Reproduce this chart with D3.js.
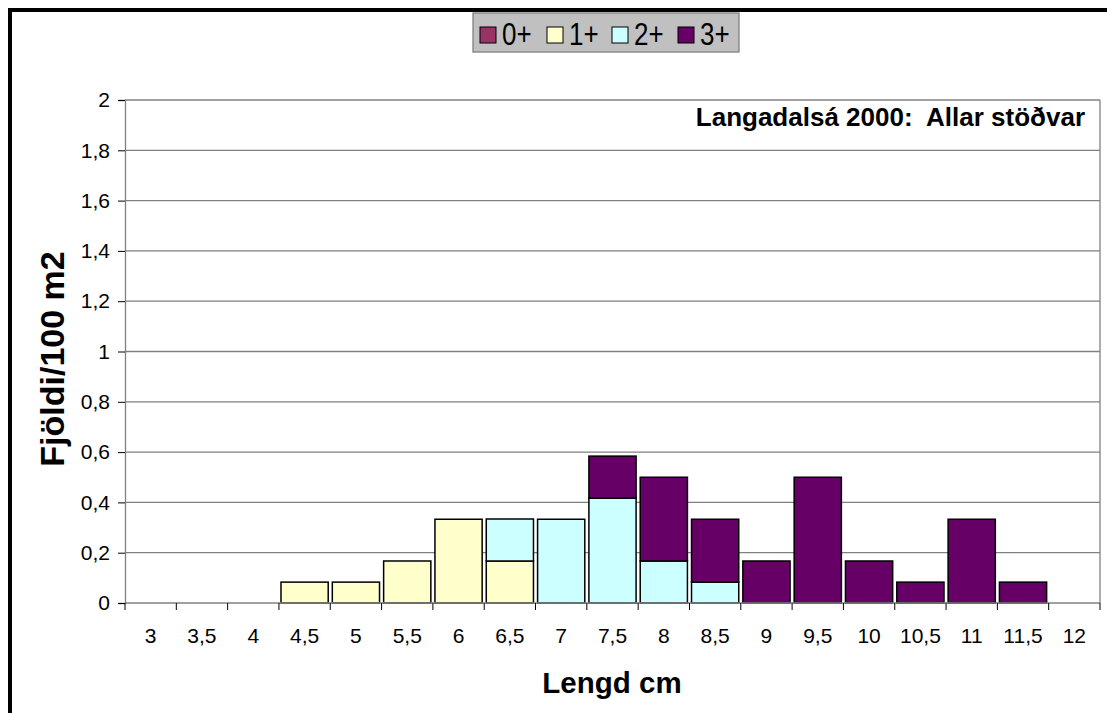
<!DOCTYPE html>
<html><head><meta charset="utf-8">
<script src="https://cdn.jsdelivr.net/npm/d3@7"></script>
<style>body{margin:0;background:#fff}svg{display:block;font-family:"Liberation Sans",Arial,sans-serif}</style>
</head><body><svg id="c" width="1107" height="713"></svg>
<script>
const categories = ["3","3,5","4","4,5","5","5,5","6","6,5","7","7,5","8","8,5","9","9,5","10","10,5","11","11,5","12"];
const seriesNames = ["0+","1+","2+","3+"];
const seriesColors = ["#993366","#ffffcc","#ccffff","#660066"];
const s0 = [0,0,0,0,0,0,0,0,0,0,0,0,0,0,0,0,0,0,0];
const s1 = [0,0,0,0.083,0.083,0.167,0.333,0.167,0,0,0,0,0,0,0,0,0,0,0];
const s2 = [0,0,0,0,0,0,0,0.167,0.333,0.417,0.167,0.083,0,0,0,0,0,0,0];
const s3 = [0,0,0,0,0,0,0,0,0,0.167,0.333,0.25,0.167,0.5,0.167,0.083,0.333,0.083,0];
const yTicks = [0,0.2,0.4,0.6,0.8,1,1.2,1.4,1.6,1.8,2];

const svg = d3.select("#c");
const L=125,R=1100,T=100,B=603;
const x = d3.scaleBand().domain(categories).range([L,R]).paddingInner(0.08).paddingOuter(0.04);
const xb = d3.scaleBand().domain(categories).range([L,R]);
const y = d3.scaleLinear().domain([0,2]).range([B,T]);
const fmt = v => String(+v.toFixed(1)).replace(".",",");

// outer frame
svg.append("rect").attr("x",10).attr("y",10).attr("width",1120).attr("height",740)
  .attr("fill","none").attr("stroke","#000").attr("stroke-width",4);

// gridlines
svg.append("g").selectAll("line").data(yTicks.filter(d=>d>0)).join("line")
  .attr("x1",L).attr("x2",R).attr("y1",d=>y(d)).attr("y2",d=>y(d))
  .attr("stroke","#808080").attr("stroke-width",1.3);
svg.append("line").attr("x1",R).attr("x2",R).attr("y1",T).attr("y2",B).attr("stroke","#808080").attr("stroke-width",1.3);

// bars
const data = categories.map((c,i)=>({c, v:[s0[i],s1[i],s2[i],s3[i]]}));
const stack = d3.stack().keys([0,1,2,3]).value((d,k)=>d.v[k])(data);
stack.forEach((layer,k)=>{
  svg.append("g").selectAll("rect").data(layer.filter(d=>d[1]-d[0]>0)).join("rect")
    .attr("x",d=>x(d.data.c)).attr("width",x.bandwidth())
    .attr("y",d=>y(d[1])).attr("height",d=>y(d[0])-y(d[1]))
    .attr("fill",seriesColors[k]).attr("stroke","#000").attr("stroke-width",1.5);
});

// y axis
const ya = svg.append("g").attr("transform",`translate(${L},0)`)
  .call(d3.axisLeft(y).tickValues(yTicks).tickFormat(fmt).tickSizeOuter(0).tickSize(7).tickPadding(8));
ya.select(".domain").attr("stroke","#808080").attr("stroke-width",1.3);
ya.selectAll(".tick line").attr("stroke","#000");
ya.selectAll("text").attr("font-size",21).attr("fill","#000").attr("font-family","Liberation Sans, Arial, sans-serif");

// x axis
const xa = svg.append("g").attr("transform",`translate(0,${B})`);
xa.append("line").attr("x1",L).attr("x2",R).attr("y1",0).attr("y2",0).attr("stroke","#808080").attr("stroke-width",1.3);
const edges = categories.map(c=>xb(c)).concat([R]);
xa.selectAll("line.t").data(edges).join("line").attr("class","t")
  .attr("x1",d=>d).attr("x2",d=>d).attr("y1",0).attr("y2",7).attr("stroke","#000");
xa.selectAll("text").data(categories).join("text")
  .attr("x",d=>xb(d)+xb.bandwidth()/2).attr("y",40).attr("text-anchor","middle")
  .attr("font-size",21).text(d=>d);

// titles
svg.append("text").attr("x",612).attr("y",693).attr("text-anchor","middle")
  .attr("font-size",29.5).attr("font-weight","bold").text("Lengd cm");
svg.append("text").attr("transform","translate(64,359) rotate(-90)").attr("text-anchor","middle")
  .attr("font-size",34).attr("font-weight","bold").text("Fjöldi/100 m2");
svg.append("text").attr("x",1085).attr("y",126).attr("text-anchor","end")
  .attr("font-size",26).attr("font-weight","bold").attr("xml:space","preserve").style("white-space","pre")
  .text("Langadalsá 2000:  Allar stöðvar");

// legend
const lg = svg.append("g");
lg.append("rect").attr("x",473).attr("y",13).attr("width",266).attr("height",39)
  .attr("fill","#c0c0c0").attr("stroke","#808080").attr("stroke-width",1.3);
const lx = [480,547,612,678];
seriesNames.forEach((n,i)=>{
  lg.append("rect").attr("x",lx[i]).attr("y",27).attr("width",16).attr("height",16)
    .attr("fill",seriesColors[i]).attr("stroke","#000").attr("stroke-width",1);
  lg.append("text").attr("transform",`translate(${lx[i]+22},45) scale(1,1.18)`).attr("font-size",26).text(n);
});
</script></body></html>
